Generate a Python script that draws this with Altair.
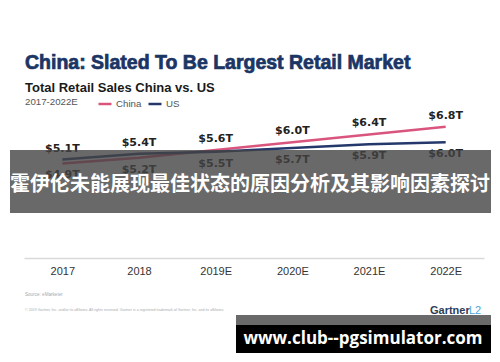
import altair as alt
import pandas as pd

years = ["2017", "2018", "2019E", "2020E", "2021E", "2022E"]
china = [4.9, 5.2, 5.6, 6.0, 6.4, 6.8]
us = [5.1, 5.4, 5.5, 5.7, 5.9, 6.0]
series_names = ["China", "US"]
series_colors = ["#d9557e", "#24386b"]

title_text = "China: Slated To Be Largest Retail Market"
subtitle_text = "Total Retail Sales China vs. US"
period_text = "2017-2022E"
source_text = "Source: eMarketer"
copyright_text = ("\u00a9 2019 Gartner, Inc. and/or its affiliates. All rights reserved. "
                  "Gartner is a registered trademark of Gartner, Inc. and its affiliates.")
overlay_text = "霍伊伦未能展现最佳状态的原因分析及其影响因素探讨"
url_text = "www.club--pgsimulator.com"

rows = []
for i, y in enumerate(years):
    c, u = china[i], us[i]
    rows.append({"year": y, "series": "China", "value": c,
                 "label": f"${c:.1f}T", "pos": "above" if c > u else "below"})
    rows.append({"year": y, "series": "US", "value": u,
                 "label": f"${u:.1f}T", "pos": "above" if u > c else "below"})
df = pd.DataFrame(rows)

xscale = alt.Scale(type="point", domain=years, range=[16, 476], padding=0.5)
yscale = alt.Scale(domain=[0, 7], range=[250, 114.9], zero=False, nice=False)

x_enc = alt.X("year:N", scale=xscale,
              axis=alt.Axis(orient="bottom", offset=-96, title=None, ticks=False,
                            grid=False, domainColor="#d9d9d9", domainWidth=1.5,
                            labelAngle=0, labelFont="Liberation Sans",
                            labelFontSize=11, labelColor="#333333",
                            labelPadding=7))
y_enc = alt.Y("value:Q", scale=yscale, axis=None)

lines = alt.Chart(df).mark_line(strokeWidth=2.5).encode(
    x=x_enc, y=y_enc,
    color=alt.Color("series:N",
                    scale=alt.Scale(domain=series_names, range=series_colors),
                    legend=alt.Legend(orient="none", legendX=89, legendY=88,
                                      direction="horizontal", title=None,
                                      labelFont="Liberation Sans", labelFontSize=9.7,
                                      labelColor="#555555", symbolType="stroke",
                                      symbolSize=169, symbolStrokeWidth=2.5,
                                      labelOffset=3, columnPadding=1, padding=0)),
)

lab_font = dict(font="DejaVu Sans", fontWeight="bold", fontSize=11, color="#222222")
above = alt.Chart(df).transform_filter(alt.datum.pos == "above").mark_text(
    dy=-11, **lab_font).encode(x=alt.X("year:N", scale=xscale), y=y_enc, text="label:N")
below = alt.Chart(df).transform_filter(alt.datum.pos == "below").mark_text(
    dy=12, **lab_font).encode(x=alt.X("year:N", scale=xscale), y=y_enc, text="label:N")


def txt(s, x, y, **kw):
    return alt.Chart(pd.DataFrame({"t": [s]})).mark_text(**kw).encode(
        x=alt.value(x), y=alt.value(y), text="t:N")


def box(x, x2, y, y2, color, opacity=1.0):
    return alt.Chart(pd.DataFrame({"k": [0]})).mark_rect(color=color, opacity=opacity).encode(
        x=alt.value(x), x2=alt.value(x2), y=alt.value(y), y2=alt.value(y2))


title = txt(title_text, 17, 55, align="left", baseline="middle", font="Liberation Sans",
            fontWeight="bold", fontSize=19.5, color="#1b3565",
            stroke="#1b3565", strokeWidth=0.7)
subtitle = txt(subtitle_text, 17, 80, align="left", baseline="middle", font="Liberation Sans",
               fontWeight="bold", fontSize=13, color="#1a1a1a")
period = txt(period_text, 17, 94, align="left", baseline="middle", font="Liberation Sans",
             fontSize=9.7, color="#555555")
source = txt(source_text, 17, 287, align="left", baseline="middle", font="Liberation Sans",
             fontSize=4.6, color="#aaaaaa")
copyright_ = txt(copyright_text, 17, 302, align="left", baseline="middle",
                 font="Liberation Sans", fontSize=3.6, color="#aaaaaa")
gartner = txt("Gartner", 422, 303, align="left", baseline="middle", font="Liberation Sans",
              fontWeight="bold", fontSize=11, color="#2d3d57")
l2 = txt("L2", 461, 303, align="left", baseline="middle", font="Liberation Sans",
         fontSize=11, color="#4aa8d8")

band = box(2, 483, 142, 205, "#444444", 0.8)
band_text = txt(overlay_text, 242, 177, align="center", baseline="middle",
                font="Noto Sans CJK SC", fontWeight="bold", fontSize=20, color="#ffffff")

strip = box(228, 483, 307, 317, "#6a6a6a")
blackbox = box(228, 483, 317, 345, "#000000")
url = txt(url_text, 355, 331, align="center", baseline="middle", font="Open Sans",
          fontWeight="bold", fontSize=17, color="#ffffff")

chart = alt.layer(
    lines, above, below, title, subtitle, period, source, copyright_, gartner, l2,
    band, band_text, strip, blackbox, url
).properties(
    width=484, height=346, padding=0,
    autosize=alt.AutoSizeParams(type="none"),
    background="#ffffff",
).configure_view(stroke=None)

chart.save("out.html", embed_options={"renderer": "svg", "actions": False})
